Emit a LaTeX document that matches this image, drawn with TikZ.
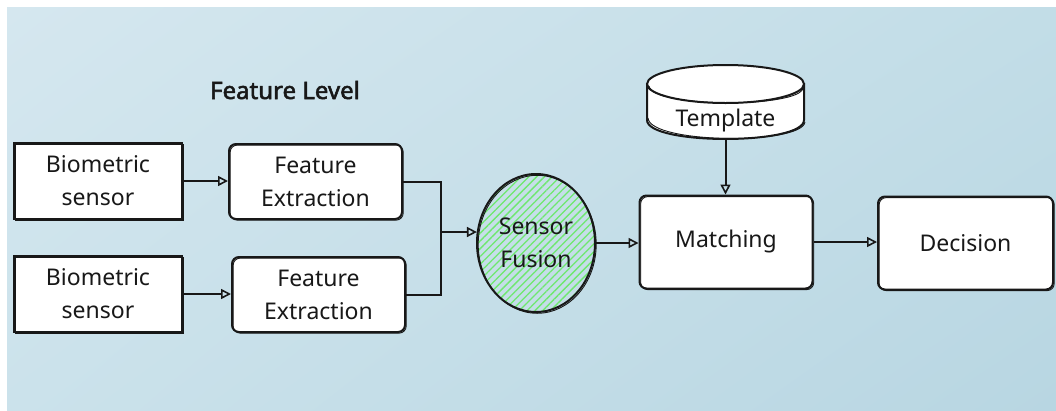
\documentclass[tikz,border=0pt]{standalone}
\usepackage{fontspec}
\setmainfont{Noto Sans}
\newfontfamily\headfont{Noto Sans}[AutoFakeBold=2.2]
\usetikzlibrary{arrows.meta,shapes.geometric,patterns.meta,shadings}
\definecolor{ink}{RGB}{24,24,24}
\definecolor{bgA}{RGB}{213,231,239}
\definecolor{bgB}{RGB}{194,221,231}
\definecolor{bgC}{RGB}{203,226,235}
\definecolor{bgD}{RGB}{184,214,226}
\definecolor{hatch}{RGB}{110,232,110}
\tikzset{
  sketch/.style={draw=ink, line width=2pt, fill=white,
    postaction={draw=ink, line width=0.9pt,
      transform canvas={shift={(1.2pt,-1.1pt)}}}},
  sharpbox/.style={sketch, rectangle, inner sep=2pt, align=center,
    minimum width=168pt, minimum height=76pt},
  roundbox/.style={sketch, rectangle, rounded corners=7pt, inner sep=2pt,
    align=center, minimum width=173pt, minimum height=75pt},
  bigbox/.style={roundbox, minimum height=93pt},
  lbl/.style={text=ink, font=\fontsize{23}{33}\selectfont},
  flow/.style={draw=ink, line width=2pt},
  arr/.style={flow, -{Triangle[open, length=10pt, width=10pt, line width=1.6pt]}},
}
\begin{document}
\begin{tikzpicture}[x=1pt, y=-1pt, every node/.style={lbl}]
  % page and background panel
  \useasboundingbox (0,0) rectangle (1056,410);
  \fill[white] (0,0) rectangle (1056,410);
  \shade[upper left=bgA, upper right=bgB, lower left=bgC, lower right=bgD]
    (7,7) rectangle (1056,410);

  % heading
  \node[font=\headfont\bfseries\fontsize{24}{28}\selectfont] (title) at (285,90) {Feature Level};

  % sensors and feature extractors
  \node[sharpbox] (bs1) at (98,181) {Biometric\\sensor};
  \node[sharpbox] (bs2) at (98,294) {Biometric\\sensor};
  \node[roundbox] (fe1) at (315.5,181.5) {Feature\\Extraction};
  \node[roundbox] (fe2) at (318.5,294.5) {Feature\\Extraction};

  % fusion
  \node[ellipse, draw=ink, line width=2pt, inner sep=0pt,
        minimum width=118pt, minimum height=138pt,
        pattern={Lines[angle=45, distance=5.5pt, line width=1.3pt]},
        pattern color=hatch,
        postaction={draw=ink, line width=0.9pt,
          transform canvas={shift={(1.2pt,-1.3pt)}}},
        align=center] (fusion) at (536,243) {Sensor\\Fusion};

  % matching, decision
  \node[bigbox] (match) at (726,242) {Matching};
  \node[bigbox, minimum width=175pt] (dec) at (965.5,243) {Decision};

  % template store (disk)
  \filldraw[fill=white, draw=ink, line width=2pt]
    (647,84) -- (647,120) .. controls (647,145.3) and (804,145.3) .. (804,120) -- (804,84) -- cycle;
  \filldraw[fill=white, draw=ink, line width=2pt]
    (725.5,84) ellipse [x radius=78.5pt, y radius=19pt];
  \draw[ink, line width=0.9pt] (649,86) .. controls (652,108) and (800,108) .. (803,88);
  \draw[ink, line width=0.9pt] (648,118) .. controls (650,144) and (802,145) .. (805,122);
  \node[inner sep=0pt, minimum width=157pt, minimum height=75pt] (tmpl) at (725.5,102.5) {};
  \node (tmpltext) at (725.5,121) {Template};

  % connectors
  \draw[arr] (bs1.east) -- (fe1.west |- bs1.east);
  \draw[arr] (bs2.east) -- (fe2.west |- bs2.east);
  \coordinate (jn) at (441,232);
  \draw[flow] (fe1.east) -| (jn);
  \draw[flow] (fe2.east) -| (jn);
  \draw[arr] (jn) -- (jn -| fusion.171);
  \draw[arr] (fusion.east) -- (fusion.east -| match.west);
  \draw[arr] (tmpl.south) -- (tmpl.south |- match.north);
  \draw[arr] (match.east) -- (match.east -| dec.west);
\end{tikzpicture}
\end{document}
